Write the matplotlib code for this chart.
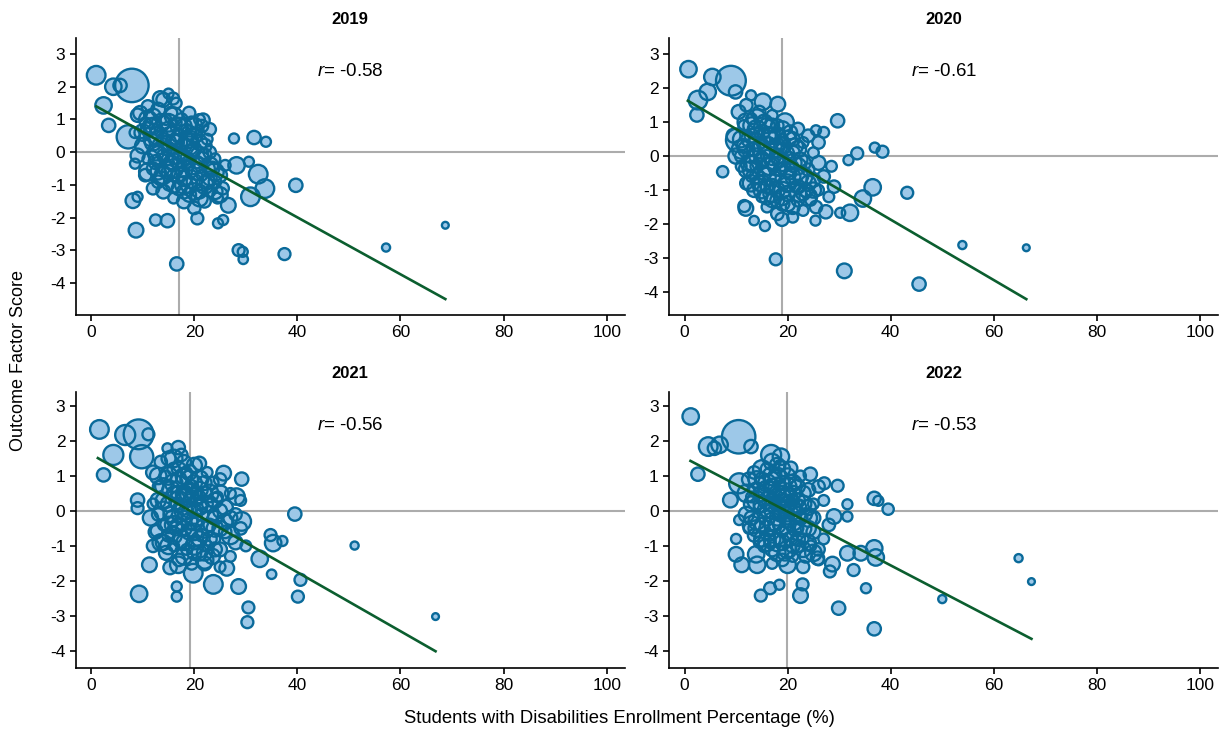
import matplotlib
matplotlib.use("Agg")
import matplotlib.pyplot as plt
import numpy as np

plt.rcParams['font.family'] = ['Liberation Sans', 'DejaVu Sans']
plt.rcParams['mathtext.fontset'] = 'custom'
plt.rcParams['mathtext.it'] = 'Liberation Sans:italic'
plt.rcParams['mathtext.rm'] = 'Liberation Sans'
plt.rcParams['axes.unicode_minus'] = False

# (pct SWD, factor score, enrollment in thousands) per district
pts_2019 = [
    (0.97, 2.35, 9), (7.9, 2.04, 29), (4.3, 2.0, 7), (5.6, 2.04, 4.6), (2.4, 1.43, 7),
    (3.4, 0.82, 4.6), (7.2, 0.47, 14), (13.4, 1.64, 5.6), (15.0, 1.79, 2.6), (15.9, 1.64, 3.7),
    (21.7, 0.98, 4.6), (27.7, 0.42, 2.6), (31.6, 0.45, 4.6), (33.9, 0.32, 2.6), (28.2, -0.40, 7),
    (30.6, -0.29, 2.6), (32.4, -0.67, 9), (33.7, -1.11, 9), (30.9, -1.36, 9), (39.7, -1.01, 4.6),
    (26.6, -1.62, 5.6), (25.6, -2.07, 2.6), (24.6, -2.17, 2.6), (20.6, -2.02, 3.7), (8.1, -1.48, 5.6),
    (9.0, -1.36, 2.6), (8.7, -2.38, 5.6), (12.5, -2.07, 3.3), (14.8, -2.09, 4.6), (16.6, -3.41, 4.6),
    (28.6, -2.99, 3.7), (29.4, -3.04, 2.6), (29.5, -3.27, 2.3), (37.5, -3.11, 3.7), (57.2, -2.91, 1.7),
    (68.7, -2.23, 1.2), (8.5, -0.35, 2.6), (9.0, 1.13, 4.6),
    (9.5, 1.2, 5), (10.5, 0.9, 3), (11, 1.4, 4), (12, 1.1, 6), (12.5, 0.6, 3), (13, 1.3, 5),
    (13.5, 0.9, 8), (14, 0.4, 4), (14.5, 1.0, 3), (15, 0.7, 6), (15.5, 1.2, 4), (16, 0.3, 7),
    (16.5, 0.9, 3), (17, 0.5, 5), (17.5, 1.0, 4), (18, 0.2, 6), (18.5, 0.7, 3), (19, 0.4, 8),
    (19.5, 0.9, 4), (20, 0.1, 5), (20.5, 0.6, 3), (21, 0.3, 6), (21.5, 0.8, 4), (22, -0.1, 5),
    (22.5, 0.4, 3), (23, 0.0, 4), (10, 0.2, 6), (11, -0.2, 3), (11.5, 0.4, 5), (12, -0.5, 4),
    (12.5, 0.0, 7), (13, -0.3, 3), (13.5, -0.8, 5), (14, -0.1, 4), (14.5, -0.5, 6), (15, -1.0, 3),
    (15.5, -0.3, 5), (16, -0.7, 4), (16.5, -0.1, 8), (17, -1.1, 5), (17.5, -0.4, 3), (18, -0.8, 6),
    (18.5, -0.2, 4), (19, -1.3, 5), (19.5, -0.6, 3), (20, -0.9, 6), (20.5, -0.3, 4), (21, -1.2, 5),
    (21.5, -0.7, 3), (22, -1.5, 4), (22.5, -0.9, 6), (23, -1.2, 3), (23.5, -0.5, 5), (24, -0.9, 4),
    (24.5, -1.4, 3), (25, -0.7, 5), (25.5, -1.1, 4), (26, -0.4, 3), (20, -1.7, 4), (18, -1.5, 5),
    (16, -1.4, 3), (13, -0.9, 4), (9, -0.1, 5), (8.5, 0.6, 3), (10.5, -0.7, 4), (24, -0.2, 3),
    (23, 0.7, 4), (14, 1.6, 5), (16.5, 1.5, 3), (19, 1.2, 4), (21, 1.0, 3), (17, 0.0, 6),
    (18, -0.1, 4), (15, 0.1, 5), (19, -0.4, 3),
    (11.5, 0.8, 6), (12.5, -0.3, 5), (13.5, 0.2, 7), (14.5, -0.2, 5), (15.5, 0.5, 9), (16.5, 0.3, 6),
    (17.5, -0.2, 7), (18.5, 0.4, 5), (19.5, 0.0, 6), (20.5, -0.6, 7), (21.5, -0.2, 5), (22.5, -0.5, 6),
    (16, -0.3, 8), (18, 0.8, 6), (14, 0.9, 5), (12, 0.3, 7), (20, 0.5, 6), (22, 0.2, 5),
    (24, -1.2, 6), (19, -1.0, 7), (17, -0.7, 6), (15, -0.6, 5), (13, -0.6, 6), (11, 0.7, 5),
    (10, 0.6, 7), (21, -0.4, 6), (23, -0.8, 5), (25, -1.3, 6), (18, -1.2, 5), (16, -1.0, 6),
    (14, -1.2, 5), (12, -1.1, 4), (17, 0.3, 7), (15, 0.3, 6), (19, 0.6, 5),
    (11, 1.0, 8), (13, 0.5, 9), (15, 0.9, 8), (17, 0.8, 7), (19, 0.2, 9), (21, -0.1, 8),
    (23, -0.4, 7), (14, -0.7, 8), (16, -0.5, 9), (18, -0.5, 8), (20, -1.2, 7), (22, -1.0, 8),
    (12, 0.8, 7), (16, 1.1, 8), (20, 0.8, 7), (24, -0.6, 8), (13, -0.1, 9), (18, -1.0, 8),
    (21, -1.4, 7), (11, -0.6, 8),
]

pts_2020 = [
    (0.77, 2.56, 7), (9.0, 2.22, 23), (5.4, 2.33, 7), (4.5, 1.89, 7), (2.6, 1.65, 9),
    (2.4, 1.21, 4.6), (9.9, 1.89, 4.6), (7.4, -0.46, 3.3), (29.7, 1.04, 4.6), (33.5, 0.08, 3.7),
    (31.8, -0.12, 2.6), (36.9, 0.25, 2.6), (38.4, 0.13, 3.7), (36.5, -0.92, 7), (34.6, -1.25, 7),
    (43.2, -1.08, 3.7), (32.1, -1.67, 7), (30.2, -1.67, 2.6), (27.4, -1.64, 4.6), (25.4, -1.90, 2.6),
    (11.9, -1.54, 5.6), (11.6, -1.47, 3.7), (13.5, -1.90, 2.3), (15.6, -2.06, 2.6), (18.9, -1.86, 4.6),
    (17.7, -3.04, 3.7), (31.0, -3.38, 5.6), (45.5, -3.77, 4.6), (53.9, -2.62, 1.7), (66.3, -2.70, 1.2),
    (12.9, 1.79, 2.6), (15.2, 1.6, 7), (18.1, 1.53, 5.6), (10.3, 0.47, 14), (12.9, -0.80, 7),
    (25.5, 0.76, 2.6),
    (10.5, 1.3, 5), (11.5, 0.9, 3), (12, 1.5, 4), (12.5, 0.5, 6), (13, 1.1, 3), (13.5, 0.2, 5),
    (14, 0.8, 8), (14.5, 1.3, 4), (15, 0.4, 3), (15.5, 1.0, 6), (16, 0.0, 4), (16.5, 0.6, 7),
    (17, 1.2, 3), (17.5, 0.3, 5), (18, 0.9, 4), (18.5, -0.1, 6), (19, 0.5, 3), (19.5, 1.0, 8),
    (20, 0.1, 4), (20.5, 0.7, 5), (21, -0.3, 3), (21.5, 0.3, 6), (22, 0.8, 4), (22.5, -0.1, 5),
    (23, 0.4, 3), (24, 0.6, 4), (25, 0.1, 3), (26, 0.4, 4), (27, 0.7, 3),
    (10, 0.0, 6), (11, -0.3, 3), (11.5, 0.3, 5), (12, -0.8, 4), (12.5, -0.2, 7), (13, -0.6, 3),
    (13.5, -1.0, 5), (14, -0.3, 4), (14.5, -0.8, 6), (15, -1.2, 3), (15.5, -0.5, 5), (16, -0.9, 4),
    (16.5, -0.3, 8), (17, -1.3, 5), (17.5, -0.6, 3), (18, -1.0, 6), (18.5, -0.4, 4), (19, -1.4, 5),
    (19.5, -0.8, 3), (20, -1.1, 6), (20.5, -0.5, 4), (21, -1.5, 5), (21.5, -0.9, 3), (22, -1.3, 4),
    (22.5, -0.6, 6), (23, -1.6, 3), (23.5, -1.0, 5), (24, -0.4, 4), (24.5, -1.3, 3), (25, -0.7, 5),
    (25.5, -1.5, 4), (26, -1.0, 3), (27, -0.6, 4), (28, -1.2, 3), (28.5, -0.3, 3), (29, -0.9, 4),
    (21, -1.8, 3), (18, -1.7, 4), (16, -1.5, 3), (9.5, 0.6, 5), (11, 0.0, 4), (13, 0.6, 5),
    (18, 0.0, 6), (19, 0.2, 4), (17, -0.2, 5),
    (12, 0.2, 7), (13, -0.2, 6), (14, 0.4, 8), (15, -0.1, 6), (16, 0.3, 9), (17, 0.6, 7),
    (18, 0.3, 6), (19, -0.2, 7), (20, -0.4, 6), (21, 0.1, 5), (22, -0.3, 7), (23, -0.2, 6),
    (15, -0.8, 7), (17, -0.9, 6), (19, -1.0, 7), (21, -0.6, 6), (23, -1.1, 5), (25, -1.0, 6),
    (13, 0.9, 7), (15, 0.7, 6), (17, 0.9, 5), (19, 0.8, 6), (21, 0.5, 5), (11, 0.5, 7),
    (12, -0.4, 6), (14, -0.6, 5), (16, -1.2, 6), (18, -1.3, 5), (20, -1.4, 6), (22, -0.9, 5),
    (24, -0.8, 6), (26, -0.2, 5), (16, 0.9, 6), (18, 0.6, 7), (14, 0.0, 6),
    (12, 1.0, 8), (14, 1.1, 9), (16, 0.6, 8), (18, -0.3, 9), (20, -0.8, 8), (22, -1.1, 7),
    (15, 0.2, 9), (17, 0.0, 8), (19, 0.3, 7), (21, -0.2, 8), (23, -0.6, 9), (13, -0.4, 8),
    (15, -1.0, 7), (17, -1.1, 8), (19, -1.2, 7), (24, -1.2, 8), (11, 0.2, 9), (20, 0.5, 7),
    (16, -0.6, 8), (22, 0.2, 7),
]

pts_2021 = [
    (1.6, 2.33, 9), (9.2, 2.19, 23), (6.6, 2.17, 10.4), (11.1, 2.19, 3.7), (4.3, 1.60, 10.4),
    (2.4, 1.03, 4.6), (9.8, 1.55, 14), (9.0, 0.31, 4.6), (9.0, 0.08, 3.7), (14.8, 1.79, 2.6),
    (16.9, 1.81, 4.6), (21.0, 1.36, 4.6), (25.7, 1.08, 5.6), (29.2, 0.91, 4.6), (28.2, 0.41, 7),
    (29.2, -0.30, 9), (39.5, -0.09, 4.6), (34.8, -0.69, 3.7), (35.3, -0.92, 7), (37.1, -0.86, 2.6),
    (51.1, -0.99, 1.7), (32.7, -1.37, 7), (35.0, -1.81, 2.3), (40.6, -1.97, 3.7), (40.1, -2.45, 3.7),
    (30.5, -2.76, 3.7), (30.3, -3.18, 3.7), (66.8, -3.02, 1.2), (9.3, -2.37, 7), (11.3, -1.54, 5.6),
    (16.6, -2.16, 2.6), (16.6, -2.45, 2.6), (19.8, -1.78, 9), (23.7, -2.10, 9), (28.6, -2.16, 5.6),
    (15.3, -1.62, 4.6), (16.9, -1.54, 7), (26.3, -1.64, 5.6), (12.7, -0.57, 3.7),
    (12, 1.1, 5), (13, 0.7, 3), (13.5, 1.4, 4), (14, 0.3, 6), (14.5, 1.0, 3), (15, 1.5, 5),
    (15.5, 0.6, 8), (16, 1.2, 4), (16.5, 0.2, 3), (17, 0.9, 6), (17.5, 1.6, 4), (18, 0.5, 7),
    (18.5, 1.1, 3), (19, 0.0, 5), (19.5, 0.7, 4), (20, 1.3, 6), (20.5, 0.3, 3), (21, 0.9, 8),
    (21.5, -0.1, 4), (22, 0.5, 5), (22.5, 1.1, 3), (23, 0.2, 6), (23.5, 0.8, 4), (24, -0.2, 5),
    (24.5, 0.4, 3), (25, 0.9, 4), (26, 0.1, 6), (27, 0.5, 3), (28, -0.1, 4), (29, 0.3, 3),
    (11.5, -0.2, 6), (12, 0.2, 3), (12.5, -0.6, 5), (13, -0.1, 4), (13.5, -0.9, 7), (14, -0.4, 3),
    (14.5, -1.2, 5), (15, -0.7, 4), (15.5, -0.1, 6), (16, -1.0, 3), (16.5, -0.5, 5), (17, -1.4, 4),
    (17.5, -0.8, 8), (18, -0.2, 5), (18.5, -1.1, 3), (19, -0.6, 6), (19.5, -1.5, 4), (20, -0.9, 5),
    (20.5, -0.3, 3), (21, -1.2, 6), (21.5, -0.7, 4), (22, -1.5, 5), (22.5, -1.0, 3), (23, -0.4, 4),
    (23.5, -1.3, 6), (24, -0.8, 3), (25, -1.1, 5), (26, -0.6, 4), (27, -1.3, 3), (28, -0.9, 5),
    (29, -0.5, 4), (30, -1.0, 3), (18, 0.4, 6), (19, 0.3, 4), (20, 0.0, 5), (17, 0.1, 3),
    (21, 0.4, 4), (16, 0.5, 5), (12, -1.0, 4), (25, -1.6, 3),
    (14, 0.7, 7), (15, 0.2, 6), (16, 0.8, 8), (17, 0.5, 6), (18, 1.0, 7), (19, 0.6, 6),
    (20, 0.4, 8), (21, 0.1, 6), (22, 0.8, 5), (23, -0.1, 7), (24, 0.3, 6), (25, 0.0, 5),
    (15, -0.4, 7), (17, -0.4, 6), (19, -0.3, 7), (21, -0.8, 6), (23, -0.8, 5), (25, -0.5, 6),
    (14, -0.9, 6), (16, -0.7, 7), (18, -0.9, 6), (20, -1.2, 5), (22, -1.2, 6), (24, -1.1, 5),
    (13, 0.3, 6), (18, 1.4, 5), (20, 0.8, 6), (22, 0.2, 7), (26, -0.3, 6), (27, -0.2, 5),
    (19, 1.1, 6), (17, 1.2, 5), (16, -0.2, 7), (18, -0.5, 6), (20, -0.6, 7),
    (15, 1.0, 8), (17, 0.3, 9), (19, 0.9, 8), (21, 0.6, 7), (23, 0.5, 8), (18, 0.0, 9),
    (20, -0.3, 8), (22, -0.5, 9), (24, -0.5, 7), (16, -0.4, 8), (18, -1.3, 7), (20, -1.0, 8),
    (14, 0.0, 9), (13, 1.0, 7), (16, 1.5, 8), (25, 0.5, 7), (27, -0.7, 8), (15, -1.0, 7),
    (22, -1.4, 8), (19, 0.5, 9),
]

pts_2022 = [
    (1.2, 2.70, 7), (10.5, 2.12, 29), (4.6, 1.84, 9), (6.8, 1.89, 7), (5.8, 1.79, 4.6),
    (12.9, 1.84, 4.6), (2.6, 1.05, 4.6), (8.9, 0.31, 5.6), (10.6, 0.79, 10.4), (10.6, -0.26, 2.6),
    (10.0, -0.80, 2.6), (10.0, -1.24, 5.6), (11.1, -1.54, 5.6), (13.9, -1.24, 7), (14.1, -1.54, 7),
    (16.5, -0.92, 2.6), (14.8, -2.42, 3.7), (16.6, -2.21, 3.7), (18.4, -2.11, 2.6), (22.5, -2.42, 5.6),
    (22.9, -2.10, 3.7), (29.9, -2.78, 4.6), (35.2, -2.21, 2.6), (36.8, -3.37, 4.6), (50.0, -2.52, 1.7),
    (64.8, -1.35, 1.7), (67.3, -2.02, 1.2), (36.8, 0.36, 4.6), (37.6, 0.29, 2.6), (39.5, 0.05, 3.3),
    (31.6, 0.19, 2.6), (29.7, 0.72, 3.7), (27.1, 0.79, 3.7), (24.4, 1.05, 4.6), (36.8, -1.07, 7),
    (37.1, -1.33, 7), (34.2, -1.21, 5.6), (31.6, -1.21, 5.6), (32.8, -1.69, 3.7), (28.7, -1.52, 5.6),
    (28.2, -1.73, 3.7), (25.8, -1.35, 4.6), (20.0, -1.54, 7), (31.6, -0.16, 2.6), (29.0, -0.16, 5.6),
    (16.8, 1.6, 10.4), (18.7, 1.55, 7), (20.6, 1.22, 4.6),
    (12.5, 0.9, 5), (13, 0.4, 3), (13.5, 1.1, 4), (14, 0.6, 6), (14.5, 0.1, 3), (15, 0.9, 5),
    (15.5, 0.4, 8), (16, 1.2, 4), (16.5, 0.7, 3), (17, 0.2, 6), (17.5, 1.0, 4), (18, 0.5, 7),
    (18.5, 1.3, 3), (19, 0.8, 5), (19.5, 0.3, 4), (20, 1.0, 6), (20.5, 0.5, 3), (21, 0.0, 8),
    (21.5, 0.8, 4), (22, 0.3, 5), (22.5, 1.0, 3), (23, 0.5, 6), (23.5, -0.1, 4), (24, 0.6, 5),
    (25, 0.2, 3), (26, 0.7, 4), (27, 0.3, 3),
    (12, -0.1, 6), (12.5, -0.5, 3), (13, -0.2, 5), (13.5, -0.7, 4), (14, -0.3, 7), (14.5, -0.9, 3),
    (15, -0.4, 5), (15.5, -1.0, 4), (16, -0.2, 6), (16.5, -0.7, 3), (17, -1.1, 5), (17.5, -0.4, 4),
    (18, -0.9, 8), (18.5, -0.1, 5), (19, -0.6, 3), (19.5, -1.2, 6), (20, -0.3, 4), (20.5, -0.8, 5),
    (21, -1.3, 3), (21.5, -0.5, 6), (22, -1.0, 4), (22.5, -0.2, 5), (23, -0.8, 3), (23.5, -1.3, 4),
    (24, -0.5, 6), (24.5, -1.0, 3), (25, -0.6, 5), (26, -1.1, 4), (27, -0.8, 3), (28, -0.4, 4),
    (18, 0.2, 6), (19, 0.1, 4), (20, -0.1, 5), (17, 0.4, 3), (21, 0.3, 4), (16, 0.0, 5),
    (22, -0.5, 3), (19, -1.4, 4), (17, -1.5, 3), (23, -1.6, 4), (26, -1.4, 3),
    (14, 0.9, 7), (15, 0.5, 6), (16, 0.8, 8), (17, 0.7, 6), (18, 1.0, 7), (19, 0.5, 6),
    (20, 0.7, 8), (21, 0.5, 6), (22, 0.7, 5), (23, 0.2, 7), (24, 0.1, 6), (25, -0.2, 5),
    (14, -0.5, 7), (16, -0.5, 6), (18, -0.4, 7), (20, -0.6, 6), (22, -0.8, 5), (24, -0.9, 6),
    (15, -0.8, 6), (17, -0.8, 7), (19, -0.9, 6), (21, -1.0, 5), (23, -1.1, 6), (13, 0.2, 6),
    (15, 0.2, 7), (17, 0.0, 6), (19, 0.4, 7), (21, 0.1, 6), (18, 1.3, 6), (17, 1.4, 7),
    (19, 1.2, 6), (16, 0.3, 7), (18, -0.2, 6), (20, 0.2, 7), (22, -0.1, 6),
    (15, 1.2, 8), (17, 1.0, 9), (19, 0.0, 8), (21, -0.3, 9), (23, -0.5, 7), (16, -0.9, 8),
    (18, -1.2, 7), (20, -1.1, 8), (14, 0.3, 9), (18, 0.7, 8), (20, 0.4, 9), (22, 0.1, 7),
    (13, -0.4, 8), (16, 0.6, 9), (24, -0.2, 8), (25, -1.2, 7), (12, 0.5, 8), (19, -0.4, 9),
    (21, 0.8, 7), (17, -0.3, 8),
]

years = ['2019', '2020', '2021', '2022']
points = [pts_2019, pts_2020, pts_2021, pts_2022]
r_values = [-0.58, -0.61, -0.56, -0.53]
fit_slope = [-0.0869, -0.0890, -0.0843, -0.0769]
fit_intercept = [1.487, 1.688, 1.620, 1.519]
fit_xmin = [1.0, 0.65, 1.3, 1.16]
mean_pct = [17.0, 19.0, 19.2, 19.9]
y_limits = [(-4.97, 3.48), (-4.68, 3.47), (-4.49, 3.40), (-4.49, 3.40)]

face = '#9dc8e8'
edge = '#0a6a9a'
fit_color = '#0b5e2f'
ref_color = '#acacac'

fig = plt.figure(figsize=(12.31, 7.36), dpi=100)
boxes = [
    (0.0615, 0.572, 0.446, 0.376),
    (0.5435, 0.572, 0.446, 0.376),
    (0.0615, 0.0924, 0.446, 0.375),
    (0.5435, 0.0924, 0.446, 0.375),
]

for i, year in enumerate(years):
    ax = fig.add_axes(boxes[i])
    arr = np.array(points[i])
    x, y, w = arr[:, 0], arr[:, 1], arr[:, 2]

    ax.axhline(0, color=ref_color, lw=1.5, zorder=1)
    ax.axvline(mean_pct[i], color=ref_color, lw=1.5, zorder=1)

    # fills first, then every outline on top of them
    ax.scatter(x, y, s=w * 20, facecolor=face, edgecolor='none', zorder=2)
    ax.scatter(x, y, s=w * 20, facecolor='none', edgecolor=edge, linewidth=1.7, zorder=2.5)

    xs = np.array([fit_xmin[i], x.max()])
    ax.plot(xs, fit_intercept[i] + fit_slope[i] * xs, color=fit_color, lw=1.9, zorder=3)

    ax.text(0.44, 0.88, r'$\it{r}$' + '= %.2f' % r_values[i], transform=ax.transAxes,
            ha='left', va='center', fontsize=13.5)
    ax.set_title(year, fontsize=12, fontweight='bold', pad=10)

    ax.set_xlim(-3, 103.5)
    ax.set_ylim(*y_limits[i])
    ax.set_xticks([0, 20, 40, 60, 80, 100])
    ax.set_yticks([-4, -3, -2, -1, 0, 1, 2, 3])
    for side in ['top', 'right']:
        ax.spines[side].set_visible(False)
    for side in ['left', 'bottom']:
        ax.spines[side].set_linewidth(1.2)
    ax.tick_params(length=4.5, width=1.2, labelsize=12.5, pad=3)

fig.text(0.503, 0.024, 'Students with Disabilities Enrollment Percentage (%)',
         ha='center', va='center', fontsize=13.3)
fig.text(0.015, 0.51, 'Outcome Factor Score', rotation=90,
         ha='center', va='center', fontsize=13)

fig.savefig('out.png', dpi=100)
